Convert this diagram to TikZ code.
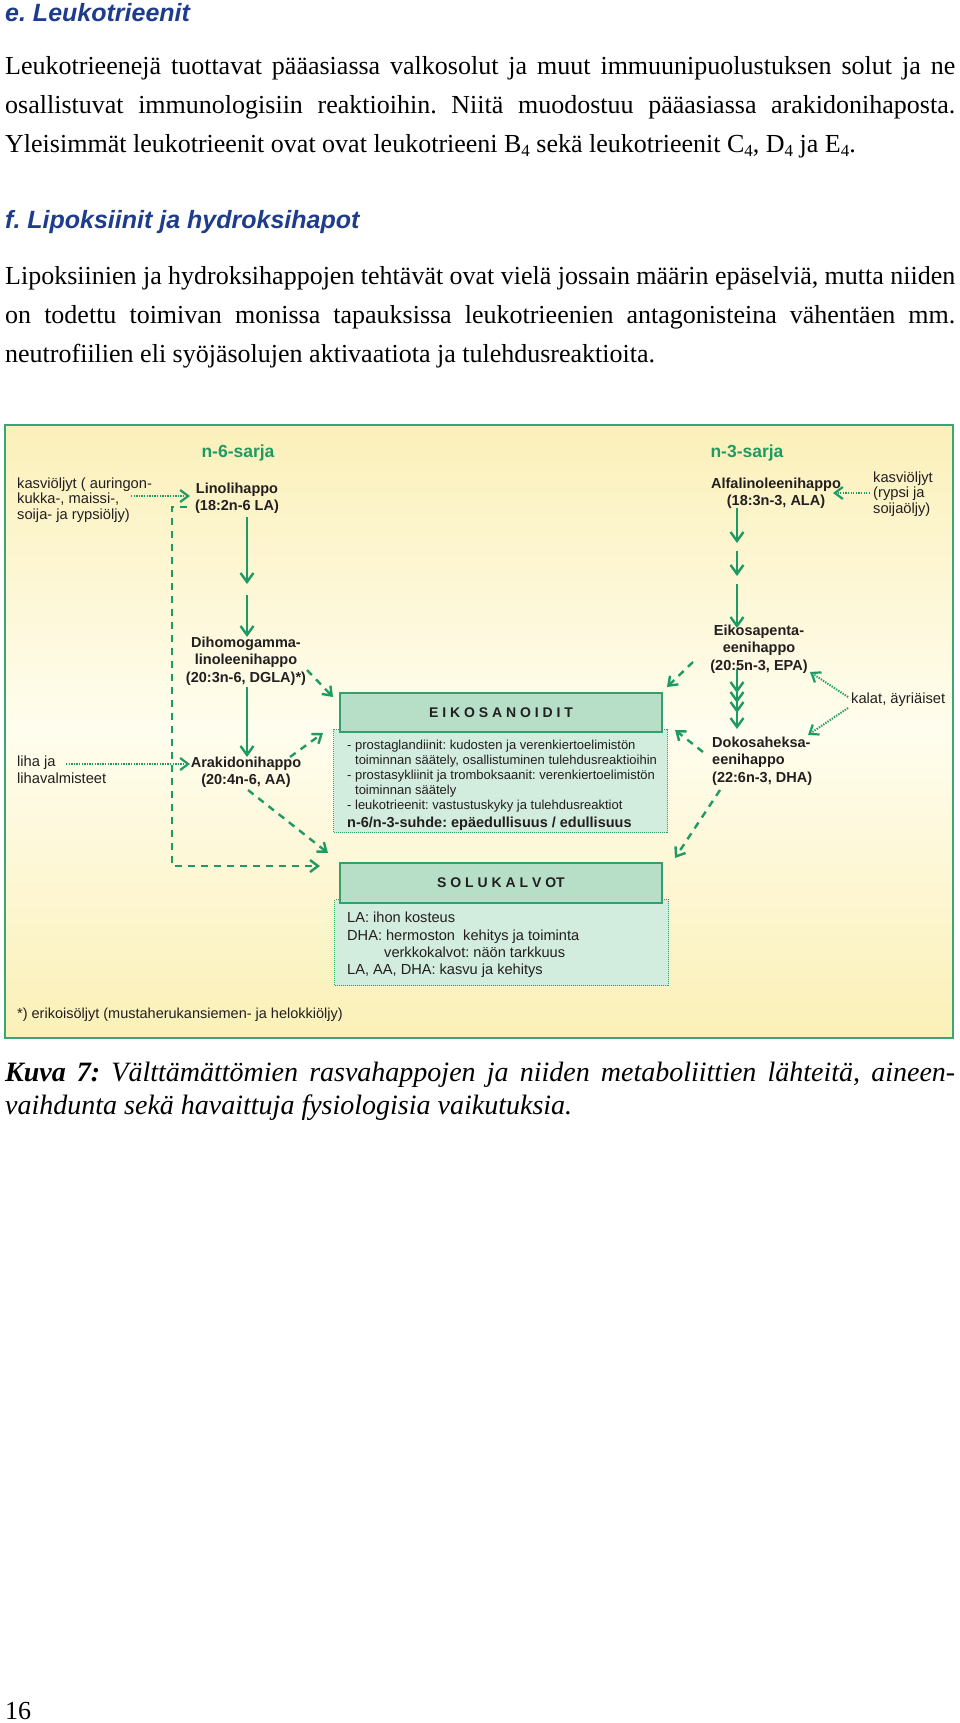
\documentclass[tikz,border=0pt]{standalone}
\usepackage{fontspec}
\setmainfont{Liberation Serif}
\setsansfont{Liberation Sans}
\usetikzlibrary{arrows.meta}
\definecolor{grn}{RGB}{30,155,100}
\definecolor{bord}{RGB}{50,160,110}
\definecolor{frm}{RGB}{60,165,120}
\definecolor{hfill}{RGB}{183,223,200}
\definecolor{cfill}{RGB}{210,236,222}
\definecolor{txt}{RGB}{35,31,32}
\definecolor{hblue}{RGB}{30,60,140}
\definecolor{ytop}{RGB}{251,240,186}
\definecolor{ymid}{RGB}{255,253,238}
\definecolor{ybot}{RGB}{251,240,183}
\newcommand{\subfour}{\raisebox{-4pt}{\fontsize{17}{17}\selectfont 4}}
\begin{document}
\frenchspacing
\begin{tikzpicture}[x=1pt,y=-1pt,
  body/.style={inner sep=0pt, anchor=base west, font=\fontsize{26}{40}\selectfont, text=black},
  captext/.style={inner sep=0pt, anchor=base west, font=\itshape\fontsize{28}{34}\selectfont, text=black},
  headg/.style={inner sep=0pt, anchor=base west, font=\sffamily\bfseries\itshape\fontsize{25}{30}\selectfont, text=hblue},
  lbl/.style={inner sep=0pt, text=txt, font=\sffamily\fontsize{14.7}{15.5}\selectfont, align=left},
  blbl/.style={inner sep=0pt, text=txt, font=\sffamily\bfseries\fontsize{14.5}{17.5}\selectfont, align=center},
  sarja/.style={inner sep=0pt, text=grn, font=\sffamily\bfseries\fontsize{17.5}{20}\selectfont},
  hbox/.style={draw=bord, line width=2pt, fill=hfill, minimum width=322pt, minimum height=39pt, inner sep=0pt, text=txt, font=\sffamily\bfseries\fontsize{14}{16}\selectfont},
  cbox/.style={draw=bord, line width=1.2pt, dash pattern=on 1pt off 1pt, fill=cfill, inner sep=0pt, anchor=north west},
  arr/.style={draw=grn, line width=2.4pt, -{Straight Barb[length=9pt,width=13pt,line width=2.4pt]}},
  dasharr/.style={draw=grn, line width=2.4pt, dash pattern=on 7pt off 6pt, -{Straight Barb[length=8pt,width=12pt,line width=2.4pt]}},
  dotarr/.style={draw=grn, line width=2pt, dash pattern=on 1.3pt off 1.3pt, -{Straight Barb[length=8pt,width=12pt,line width=2.2pt]}}
]
\fill[white] (0,0) rectangle (960,1723);
\useasboundingbox (0,0) rectangle (960,1723);

% ---------- text above ----------
\node[headg] (h1) at (5,22) {e. Leukotrieenit};
\node[body] (p1a) at (5,75) {\makebox[950pt][s]{Leukotrieenejä tuottavat pääasiassa valkosolut ja muut immuunipuolustuksen solut ja ne}};
\node[body] (p1b) at (5,114) {\makebox[950pt][s]{osallistuvat immunologisiin reaktioihin. Niitä muodostuu pääasiassa arakidonihaposta.}};
\node[body] (p1c) at (5,153) {Yleisimmät leukotrieenit ovat ovat leukotrieeni B\subfour{} sekä leukotrieenit C\subfour, D\subfour{} ja E\subfour.};
\node[headg] (h2) at (5,228) {f. Lipoksiinit ja hydroksihapot};
\node[body] (p2a) at (5,284) {\makebox[950pt][s]{Lipoksiinien ja hydroksihappojen tehtävät ovat vielä jossain määrin epäselviä, mutta niiden}};
\node[body] (p2b) at (5,323) {\makebox[950pt][s]{on todettu toimivan monissa tapauksissa leukotrieenien antagonisteina vähentäen mm.}};
\node[body] (p2c) at (5,362) {neutrofiilien eli syöjäsolujen aktivaatiota ja tulehdusreaktioita.};

% ---------- frame ----------
\shade[top color=ytop, bottom color=ybot, middle color=ymid] (5,425) rectangle (953,1038);
\draw[draw=frm, line width=2.5pt] (5,425) rectangle (953,1038);

% ---------- diagram labels ----------
\node[sarja] (n6) at (238,453) {n-6-sarja};
\node[sarja] (n3) at (747,453) {n-3-sarja};
\node[lbl, anchor=west] (kas1) at (17,500) {kasviöljyt ( auringon-\\kukka-, maissi-,\\soija- ja rypsiöljy)};
\node[blbl] (LA) at (237,498) {Linolihappo\\(18:2n-6 LA)};
\node[blbl] (ALA) at (776,493) {Alfalinoleenihappo\\(18:3n-3, ALA)};
\node[lbl, anchor=west] (kas2) at (873,494) {kasviöljyt\\(rypsi ja\\soijaöljy)};
\node[blbl] (DGLA) at (246,661) {Dihomogamma-\\linoleenihappo\\(20:3n-6, DGLA)*)};
\node[blbl] (EPA) at (759,649) {Eikosapenta-\\eenihappo\\(20:5n-3, EPA)};
\node[lbl, anchor=west] (kalat) at (851,700) {kalat, äyriäiset};
\node[lbl, anchor=west, font=\sffamily\fontsize{14.7}{17}\selectfont] (liha) at (17,770) {liha ja\\lihavalmisteet};
\node[blbl] (AA) at (246,772) {Arakidonihappo\\(20:4n-6, AA)};
\node[blbl, align=left, anchor=west] (DHA) at (712,761) {Dokosaheksa-\\eenihappo\\(22:6n-3, DHA)};

% ---------- boxes ----------
\node[cbox, minimum width=334pt, minimum height=103pt] (EIKc) at (333,729) {};
\node[hbox] (EIKh) at (501,712.5) {E I K O S A N O I D I T};
\node[inner sep=0pt, anchor=north west, align=left, text=txt, font=\sffamily\fontsize{13}{15}\selectfont] (EIKt) at (347,740)
 {- prostaglandiinit: kudosten ja verenkiertoelimistön\\\phantom{- }toiminnan säätely, osallistuminen tulehdusreaktioihin\\- prostasykliinit ja tromboksaanit: verenkiertoelimistön\\\phantom{- }toiminnan säätely\\- leukotrieenit: vastustuskyky ja tulehdusreaktiot\\[3pt]{\bfseries\fontsize{14.5}{16}\selectfont n-6/n-3-suhde: epäedullisuus / edullisuus}};

\node[cbox, minimum width=334pt, minimum height=86pt] (SOLc) at (334,899) {};
\node[hbox, minimum height=40pt] (SOLh) at (501,883) {S O L U K A L V OT};
\node[inner sep=0pt, anchor=north west, align=left, text=txt, font=\sffamily\fontsize{14.6}{17.3}\selectfont] (SOLt) at (347,912)
 {LA: ihon kosteus\\DHA: hermoston\ \ kehitys ja toiminta\\\hspace*{37pt}verkkokalvot: näön tarkkuus\\LA, AA, DHA: kasvu ja kehitys};

\node[lbl, anchor=base west, font=\sffamily\fontsize{14.5}{15}\selectfont] (foot) at (17,1018) {*) erikoisöljyt (mustaherukansiemen- ja helokkiöljy)};

% ---------- coordinates ----------
\coordinate (a1s) at (247,517); \coordinate (a1e) at (247,584);
\coordinate (a2s) at (247,595); \coordinate (a2e) at (247,637);
\coordinate (a3s) at (247,687); \coordinate (a3e) at (247,757);
\coordinate (b1s) at (737,508); \coordinate (b1e) at (737,543);
\coordinate (b2s) at (737,551); \coordinate (b2e) at (737,576);
\coordinate (b3s) at (737,584); \coordinate (b3e) at (737,628);
\coordinate (b4s) at (737,669); \coordinate (b4e) at (737,729);
\coordinate (c0) at (737,681); \coordinate (c1) at (737,693);
\coordinate (c2) at (737,703); \coordinate (c3) at (737,713);

% solid arrows
\draw[arr] (a1s) -- (a1e);
\draw[arr] (a2s) -- (a2e);
\draw[arr] (a3s) -- (a3e);
\draw[arr] (b1s) -- (b1e);
\draw[arr] (b2s) -- (b2e);
\draw[arr] (b3s) -- (b3e);
\draw[arr] (b4s) -- (b4e);
\draw[arr] (c0) -- (c1);
\draw[arr] (c1) -- (c2);
\draw[arr] (c2) -- (c3);

% dashed arrows
\coordinate (d1s) at (307,670); \coordinate (d1e) at (333,697);
\coordinate (d2s) at (290,757); \coordinate (d2e) at (323,733);
\coordinate (d3s) at (248,790); \coordinate (d3e) at (328,853);
\coordinate (d4s) at (693,662); \coordinate (d4e) at (667,687);
\coordinate (d5s) at (703,752); \coordinate (d5e) at (675,730);
\coordinate (d6s) at (720,790); \coordinate (d6e) at (675,858);
\draw[dasharr] (d1s) -- (d1e);
\draw[dasharr] (d2s) -- (d2e);
\draw[dasharr] (d3s) -- (d3e);
\draw[dasharr] (d4s) -- (d4e);
\draw[dasharr] (d5s) -- (d5e);
\draw[dasharr] (d6s) -- (d6e);
\coordinate (l1) at (187,507); \coordinate (l2) at (172,507);
\coordinate (l3) at (172,866); \coordinate (l4) at (320,866);
\draw[dasharr] (l1) -- (l2) -- (l3) -- (l4);

% dotted arrows
\coordinate (o1s) at (131,496); \coordinate (o1e) at (190,496);
\coordinate (o2s) at (66,764);  \coordinate (o2e) at (190,764);
\coordinate (o3s) at (870,493); \coordinate (o3e) at (833,493);
\coordinate (o4s) at (848,697); \coordinate (o4e) at (810,672);
\coordinate (o5s) at (848,708); \coordinate (o5e) at (808,735);
\draw[dotarr] (o1s) -- (o1e);
\draw[dotarr] (o2s) -- (o2e);
\draw[dotarr] (o3s) -- (o3e);
\draw[dotarr] (o4s) -- (o4e);
\draw[dotarr] (o5s) -- (o5e);

% ---------- caption and page number ----------
\node[captext] (cap1) at (5,1081) {\makebox[950pt][s]{\textbf{Kuva 7:} Välttämättömien rasvahappojen ja niiden metaboliittien lähteitä, aineen-}};
\node[captext] (cap2) at (5,1114) {vaihdunta sekä havaittuja fysiologisia vaikutuksia.};
\node[body] (pnum) at (5,1719) {16};
\end{tikzpicture}
\end{document}
